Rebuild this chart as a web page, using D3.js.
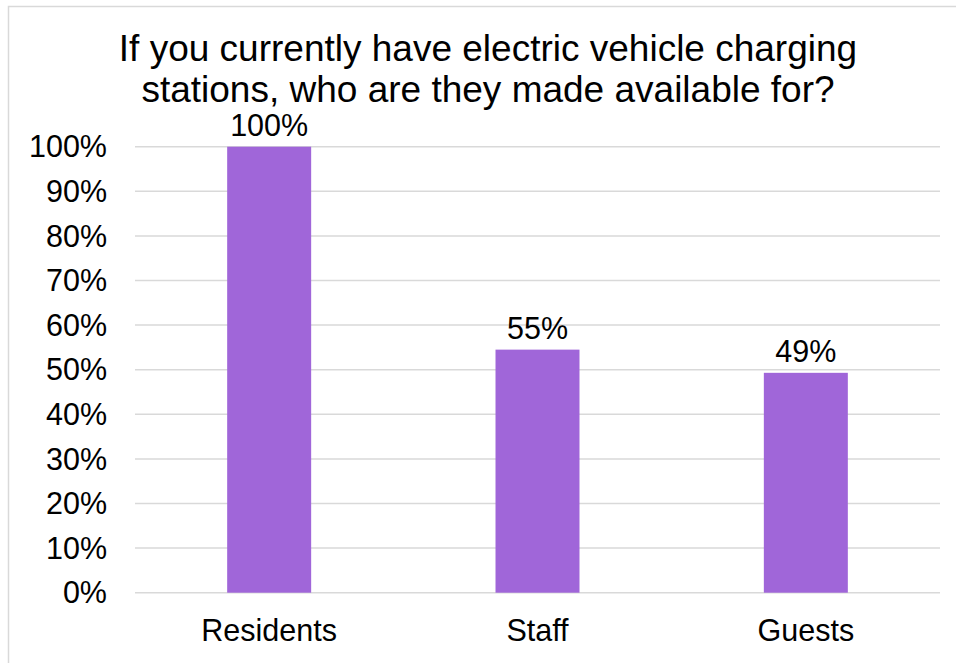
<!DOCTYPE html>
<html>
<head>
<meta charset="utf-8">
<script src="https://cdn.jsdelivr.net/npm/d3@7/dist/d3.min.js"></script>
<style>
  body { margin: 0; background: #fff; }
  text { font-family: "Liberation Sans", Arial, sans-serif; fill: #000; }
</style>
</head>
<body>
<div id="graph"></div>
<script>
const categories = ["Residents", "Staff", "Guests"];
const values = [1.0, 0.545, 0.493];
const valueLabels = ["100%", "55%", "49%"];
const tickValues = [0, 0.1, 0.2, 0.3, 0.4, 0.5, 0.6, 0.7, 0.8, 0.9, 1.0];
const titleLines = [
  "If you currently have electric vehicle charging",
  "stations, who are they made available for?"
];

var width = 956, height = 663;
var margin = {top: 146.7, right: 16, bottom: 70.3, left: 135};

var svg = d3.select("#graph").append("svg")
    .attr("width", width)
    .attr("height", height);

// chart border
svg.append("rect")
  .attr("x", 8.5)
  .attr("y", 6.5)
  .attr("width", 1000)
  .attr("height", 1000)
  .attr("fill", "none")
  .attr("stroke", "#d9d9d9")
  .attr("stroke-width", 1.5);

var x = d3.scaleBand()
    .domain(categories)
    .range([margin.left, width - margin.right])
    .paddingInner(0.687)
    .paddingOuter(0.3435);

var y = d3.scaleLinear()
    .domain([0, 1])
    .range([height - margin.bottom, margin.top]);

// gridlines
svg.selectAll(".grid")
  .data(tickValues)
  .enter().append("line")
  .attr("class", "grid")
  .attr("x1", margin.left)
  .attr("x2", width - margin.right)
  .attr("y1", function(d) { return y(d); })
  .attr("y2", function(d) { return y(d); })
  .attr("stroke", "#d9d9d9")
  .attr("stroke-width", 1.5);

// y tick labels
svg.selectAll(".ytick")
  .data(tickValues)
  .enter().append("text")
  .attr("class", "ytick")
  .attr("x", 107)
  .attr("y", function(d) { return y(d); })
  .attr("dy", "0.35em")
  .attr("text-anchor", "end")
  .attr("font-size", "30.5px")
  .text(function(d) { return d3.format(".0%")(d); });

// bars
svg.selectAll(".bar")
  .data(values)
  .enter().append("rect")
  .attr("class", "bar")
  .attr("x", function(d, i) { return x(categories[i]); })
  .attr("width", x.bandwidth())
  .attr("y", function(d) { return y(d); })
  .attr("height", function(d) { return y(0) - y(d); })
  .attr("fill", "#a066d9");

// value labels
svg.selectAll(".vlabel")
  .data(values)
  .enter().append("text")
  .attr("class", "vlabel")
  .attr("x", function(d, i) { return x(categories[i]) + x.bandwidth() / 2; })
  .attr("y", function(d) { return y(d) - 11; })
  .attr("text-anchor", "middle")
  .attr("font-size", "30.5px")
  .text(function(d, i) { return valueLabels[i]; });

// category labels
svg.selectAll(".xlabel")
  .data(categories)
  .enter().append("text")
  .attr("class", "xlabel")
  .attr("x", function(d) { return x(d) + x.bandwidth() / 2; })
  .attr("y", 640.5)
  .attr("text-anchor", "middle")
  .attr("font-size", "30.5px")
  .text(function(d) { return d; });

// title
svg.selectAll(".title")
  .data(titleLines)
  .enter().append("text")
  .attr("class", "title")
  .attr("x", 488)
  .attr("y", function(d, i) { return 61 + i * 40.5; })
  .attr("text-anchor", "middle")
  .attr("font-size", "37px")
  .text(function(d) { return d; });
</script>
</body>
</html>
